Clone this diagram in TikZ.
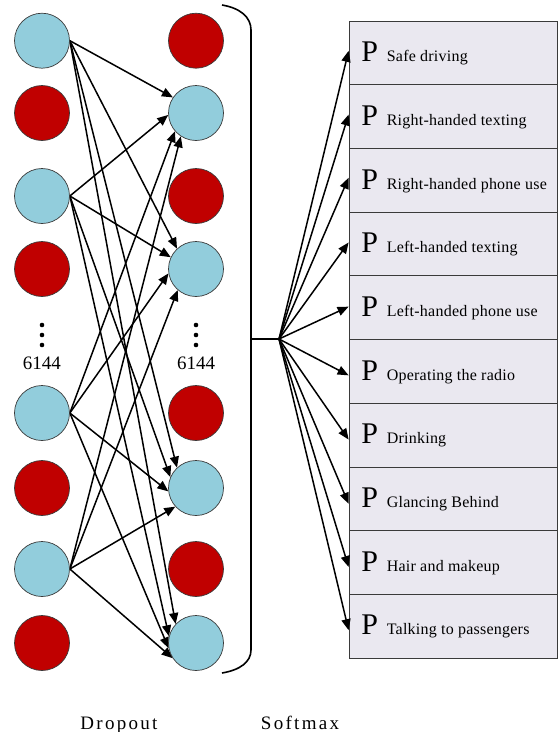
\documentclass[tikz,border=0pt]{standalone}
\usepackage{fontspec}
\setmainfont{Liberation Serif}
\usetikzlibrary{arrows.meta,calc}

\definecolor{unitblue}{HTML}{92CDDC}
\definecolor{unitred}{HTML}{C00000}
\definecolor{classfill}{HTML}{EAE8F0}
\definecolor{edgegray}{HTML}{3A3A3A}

\pgfdeclarelayer{wires}
\pgfsetlayers{wires,main}

\tikzset{
  unit/.style={circle, inner sep=0pt, minimum size=55pt, draw=edgegray, line width=0.7pt},
  keptunit/.style={unit, fill=unitblue},
  droppedunit/.style={unit, fill=unitred},
  dotmark/.style={circle, fill=black, inner sep=0pt, minimum size=4.6pt},
  countlabel/.style={inner sep=0pt, font=\fontsize{19}{19}\selectfont},
  conn/.style={line width=1.5pt, -{Triangle[length=11pt,width=9pt]}},
  classbox/.style={rectangle, draw=edgegray, line width=0.8pt, fill=classfill,
                   minimum width=208pt, minimum height=63.7pt, inner sep=0pt},
  bigp/.style={inner sep=0pt, anchor=base west, font=\fontsize{30}{30}\selectfont},
  classname/.style={inner sep=0pt, anchor=base west,
                    font=\fontsize{16}{16}\selectfont\addfontfeature{LetterSpace=1.5}},
  caption/.style={inner sep=0pt, anchor=base, font=\fontsize{19}{19}\selectfont\addfontfeature{LetterSpace=12}},
  bracket/.style={line width=1.6pt}
}

\begin{document}
\begin{tikzpicture}[x=1pt, y=-1pt]
  \useasboundingbox (0,0) rectangle (558,732);

  % input layer (left column)
  \node[keptunit]    (l1) at (42,40.7)  {};
  \node[droppedunit] (l2) at (42,113)   {};
  \node[keptunit]    (l3) at (42,196)   {};
  \node[droppedunit] (l4) at (42,269)   {};
  \node[keptunit]    (l5) at (42,413)   {};
  \node[droppedunit] (l6) at (42,488)   {};
  \node[keptunit]    (l7) at (42,569)   {};
  \node[droppedunit] (l8) at (42,643)   {};

  % dropout layer (right column)
  \node[droppedunit] (r1) at (196,40.7) {};
  \node[keptunit]    (r2) at (196,113)  {};
  \node[droppedunit] (r3) at (196,196)  {};
  \node[keptunit]    (r4) at (196,269)  {};
  \node[droppedunit] (r5) at (196,413)  {};
  \node[keptunit]    (r6) at (196,488)  {};
  \node[droppedunit] (r7) at (196,569)  {};
  \node[keptunit]    (r8) at (196,643)  {};

  % ellipsis and layer size
  \node[dotmark] (ld1) at (42,325) {};
  \node[dotmark] (ld2) at (42,335) {};
  \node[dotmark] (ld3) at (42,345) {};
  \node[countlabel, anchor=base] (lcount) at (42,369) {6144};
  \node[dotmark] (rd1) at (196,325) {};
  \node[dotmark] (rd2) at (196,335) {};
  \node[dotmark] (rd3) at (196,345) {};
  \node[countlabel, anchor=base] (rcount) at (196,369) {6144};

  % connections between the kept units (behind the units)
  \begin{pgfonlayer}{wires}
    \foreach \s/\t/\a in {
        l1/r2/146, l3/r2/184, l5/r2/221, l7/r2/237,
        l1/r4/133, l3/r4/155, l5/r4/189, l7/r4/229,
        l1/r6/133, l3/r6/157, l5/r6/187, l7/r6/222,
        l1/r8/137, l3/r8/166, l5/r8/191, l7/r8/213}{
      \draw[conn] (\s.east) -- (\t.\a);
    }
  \end{pgfonlayer}

  % closing bracket around the dropout layer
  \coordinate (brtop) at (222,5);
  \coordinate (brbot) at (222,673);
  \coordinate (brmid) at (251,339);
  \coordinate (fan) at (279,339);
  \draw[bracket] (brtop) .. controls (240,8) and (251,17) .. (251,30)
                 -- (251,650) .. controls (251,662) and (240,670) .. (brbot);
  \draw[bracket] (brmid) -- (fan);

  % softmax output classes
  \foreach \i/\lab/\dy in {
      1/Safe driving/2,
      2/Right-handed texting/2,
      3/Right-handed phone use/2.5,
      4/Left-handed texting/1.5,
      5/Left-handed phone use/1,
      6/Operating the radio/-4,
      7/Drinking/-4.5,
      8/Glancing Behind/-5,
      9/Hair and makeup/-4.5,
      10/Talking to passengers/-4}{
    \node[classbox] (b\i) at (453, {21+63.7*(\i-0.5)}) {};
    \node[bigp] (p\i) at ($(b\i.north west)+(12.5,41)$) {P};
    \node[classname] (t\i) at ($(b\i.north west)+(38,41)$) {\lab};
    \coordinate (e\i) at ($(b\i.west)+(0,-\dy)$);
    \draw[conn] (fan) -- (e\i);
  }

  % layer captions
  \node[caption] (dropcap) at (119,729) {Dropout};
  \node[caption] (softcap) at (300,729) {Softmax};
\end{tikzpicture}
\end{document}
